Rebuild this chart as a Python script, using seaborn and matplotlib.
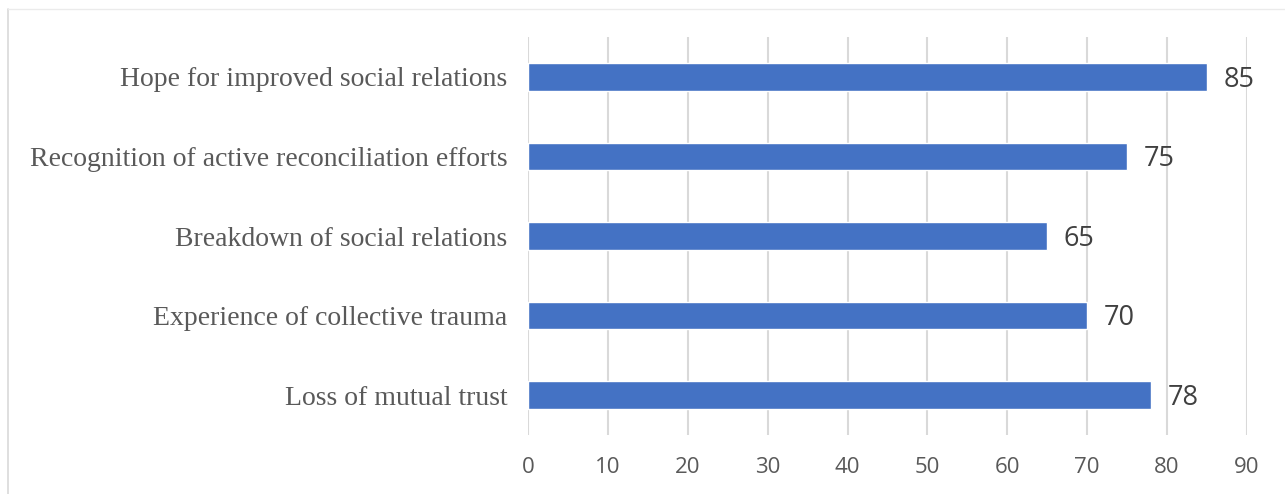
import matplotlib
matplotlib.use("Agg")
import matplotlib.pyplot as plt
import seaborn as sns
import pandas as pd
from matplotlib.lines import Line2D

categories = [
    "Hope for improved social relations",
    "Recognition of active reconciliation efforts",
    "Breakdown of social relations",
    "Experience of collective trauma",
    "Loss of mutual trust",
]
values = [85, 75, 65, 70, 78]
xticks = [0, 10, 20, 30, 40, 50, 60, 70, 80, 90]

sns.set_theme(style="white")
plt.rcParams['font.family'] = ['Open Sans', 'DejaVu Sans']

df = pd.DataFrame({"category": categories, "value": values})

fig = plt.figure(figsize=(12.85, 4.94), dpi=100)
ax = fig.add_axes([528/1285, 1-434.75/494, (1247-528)/1285, (434.75-37.25)/494])

sns.barplot(data=df, x="value", y="category", orient="h", color="#4472C4",
            saturation=1, width=0.35, ax=ax, zorder=3)

ax.set_xlim(0, 90)
ax.set_ylim(4.5, -0.5)
ax.set_xticks(xticks)
ax.set_xticklabels([str(t) for t in xticks], fontsize=16, color="#595959")
ax.tick_params(axis="x", length=0, pad=16)
ax.tick_params(axis="y", length=0, pad=15)
for lbl in ax.get_yticklabels():
    lbl.set_fontfamily(["Liberation Serif", "DejaVu Serif"])
    lbl.set_fontsize(20)
    lbl.set_color("#595959")
ax.set_xlabel("")
ax.set_ylabel("")
ax.grid(axis="x", color="#D9D9D9", linewidth=1.5, zorder=0)
ax.grid(axis="y", visible=False)
for s in ax.spines.values():
    s.set_visible(False)

for i, v in enumerate(values):
    ax.annotate(str(v), (v, i), xytext=(12, -2), textcoords="offset points",
                va="center", ha="left", fontsize=19.5, color="#404040")

# faint chart border
fig.add_artist(Line2D([8/1285, 8/1285], [0, 1-9/494], transform=fig.transFigure,
                      color="#D9D9D9", linewidth=1.2))
fig.add_artist(Line2D([8/1285, 1], [1-9/494, 1-9/494], transform=fig.transFigure,
                      color="#EBEBEB", linewidth=1.0))

fig.savefig("out.png", dpi=100)
